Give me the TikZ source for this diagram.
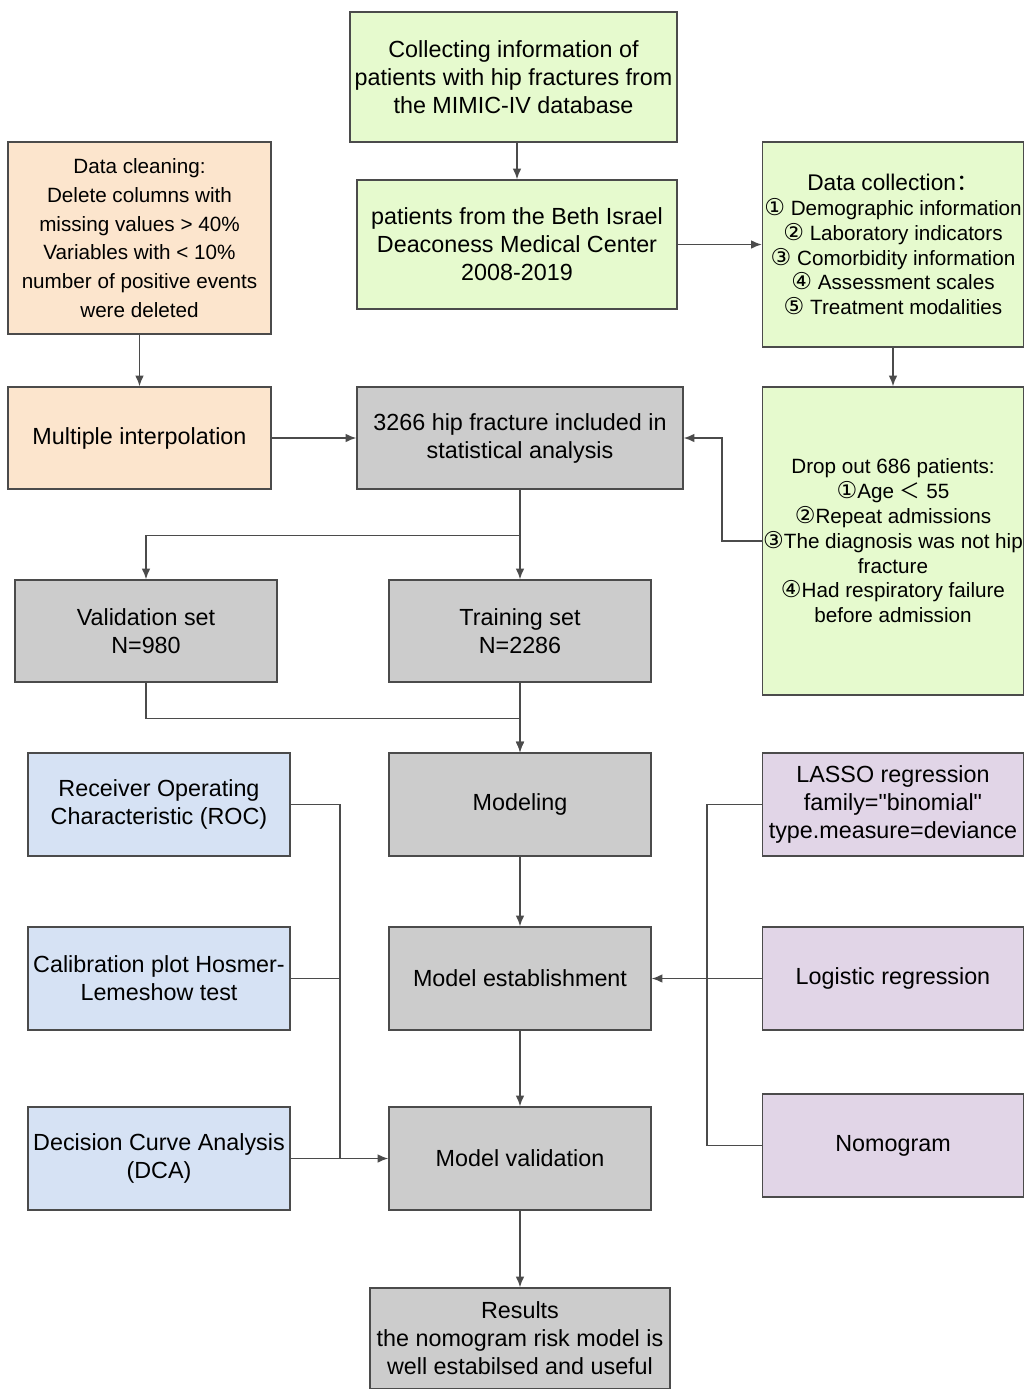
\documentclass[tikz,border=0pt]{standalone}
\usepackage{fontspec}
\setmainfont{Liberation Sans}
\newfontfamily\circfont{DejaVu Sans}[Scale=1.12]
\newfontfamily\cjkfont{Noto Sans CJK SC}
\usetikzlibrary{arrows.meta}

\newcommand{\cnum}[1]{{\circfont #1}}
\newcommand{\dq}{\XeTeXglyph\XeTeXcharglyph34\relax}

\definecolor{boxgreen}{RGB}{230,250,206}
\definecolor{boxorange}{RGB}{252,229,205}
\definecolor{boxgray}{RGB}{204,204,204}
\definecolor{boxblue}{RGB}{214,226,244}
\definecolor{boxpurple}{RGB}{225,213,231}
\definecolor{edgegray}{RGB}{75,75,75}

\tikzset{
  box/.style={draw=edgegray, line width=1.1pt, inner sep=0pt, align=center,
    font=\fontsize{17.5}{21}\selectfont},
  smalltxt/.style={font=\fontsize{15.5}{18.6}\selectfont},
  cleantxt/.style={font=\fontsize{15.5}{21.5}\selectfont},
  sz/.style 2 args={minimum width=#1*0.75pt, minimum height=#2*0.75pt},
  conn/.style={draw=edgegray, line width=1.1pt},
  arr/.style={conn, -{Latex[length=8pt,width=6.5pt]}},
}

\begin{document}
\begin{tikzpicture}[x=0.75pt,y=-0.75pt]
    \useasboundingbox (0,0) rectangle (1024,1389);

    % top row
    \node[box, fill=boxgreen, sz={327}{130}] (collect) at (513.5,77)
        {Collecting information of\\patients with hip fractures from\\the MIMIC-IV database};
    \node[box, fill=boxgreen, sz={320}{129}] (bidmc) at (517,244.5)
        {patients from the Beth Israel\\Deaconess Medical Center\\2008-2019};
    \node[box, fill=boxgreen, smalltxt, sz={261}{205}] (datacoll) at (893,244.5)
        {{\fontsize{17}{18.6}\selectfont Data collection{\cjkfont ：}}\\\cnum{①} Demographic information\\\cnum{②} Laboratory indicators\\
         \cnum{③} Comorbidity information\\\cnum{④} Assessment scales\\\cnum{⑤} Treatment modalities};
    \node[box, fill=boxorange, cleantxt, sz={263}{192}] (cleaning) at (139.5,238)
        {Data cleaning:\\Delete columns with\\missing values > 40\%\\Variables with < 10\%\\number of positive events\\were deleted};

    % second row
    \node[box, fill=boxorange, sz={263}{102}] (interp) at (139.5,438) {Multiple interpolation};
    \node[box, fill=boxgray, sz={326}{102}] (included) at (520,438)
        {3266 hip fracture included in\\statistical analysis};
    \node[box, fill=boxgreen, smalltxt, sz={261}{308}] (dropout) at (893,541)
        {Drop out 686 patients:\\\cnum{①}Age {\cjkfont ＜} 55\\\cnum{②}Repeat admissions\\\cnum{③}The diagnosis was not hip\\
         fracture\\\cnum{④}Had respiratory failure\\before admission};

    % split
    \node[box, fill=boxgray, sz={262}{102}] (validset) at (146,631) {Validation set\\N=980};
    \node[box, fill=boxgray, sz={262}{102}] (trainset) at (520,631) {Training set\\N=2286};

    % modelling column
    \node[box, fill=boxgray, sz={262}{103}] (modeling) at (520,804.5) {Modeling};
    \node[box, fill=boxgray, sz={262}{103}] (establish) at (520,978.5) {Model establishment};
    \node[box, fill=boxgray, sz={262}{103}] (mvalid) at (520,1158.5) {Model validation};
    \node[box, fill=boxgray, sz={300}{101}] (results) at (520,1338.5)
        {Results\\the nomogram risk model is\\well estabilsed and useful};

    % left column
    \node[box, fill=boxblue, sz={262}{103}] (roc) at (159,804.5) {Receiver Operating\\Characteristic (ROC)};
    \node[box, fill=boxblue, sz={262}{103}] (calib) at (159,978.5) {Calibration plot Hosmer-\\Lemeshow test};
    \node[box, fill=boxblue, sz={262}{103}] (dca) at (159,1158.5) {Decision Curve Analysis\\(DCA)};

    % right column
    \node[box, fill=boxpurple, sz={261}{103}] (lasso) at (893,804.5)
        {LASSO regression\\family=\dq binomial\dq\\type.measure=deviance};
    \node[box, fill=boxpurple, sz={261}{103}] (logit) at (893,978.5) {Logistic regression};
    \node[box, fill=boxpurple, sz={261}{103}] (nomo) at (893,1145.5) {Nomogram};

    \coordinate (leftbus) at (340,1158.5);
    \coordinate (rightbus) at (707,1145.5);

    % connectors
    \draw[arr] (collect.south -| bidmc) -- (bidmc.north);
    \draw[arr] (bidmc.east) -- (datacoll.west);
    \draw[arr] (datacoll.south) -- (dropout.north);
    \draw[arr] (cleaning.south) -- (interp.north);
    \draw[arr] (interp.east) -- (included.west);
    \draw[arr] (dropout.west) -- ++(-40,0) |- (included.east);
    \draw[arr] (included.south) -- (trainset.north);
    \draw[arr] (included.south) -- ++(0,46) -| (validset.north);
    \draw[arr] (trainset.south) -- (modeling.north);
    \draw[arr] (validset.south) -- ++(0,36) -| (modeling.north);
    \draw[arr] (modeling.south) -- (establish.north);
    \draw[arr] (establish.south) -- (mvalid.north);
    \draw[arr] (mvalid.south) -- (results.north);

    \draw[conn] (roc.east) -| (leftbus);
    \draw[conn] (calib.east) -- (calib.east -| leftbus);
    \draw[arr] (dca.east) -- (mvalid.west);

    \draw[conn] (lasso.west) -| (rightbus);
    \draw[conn] (nomo.west) -- (rightbus);
    \draw[arr] (logit.west) -- (establish.east);
\end{tikzpicture}
\end{document}
